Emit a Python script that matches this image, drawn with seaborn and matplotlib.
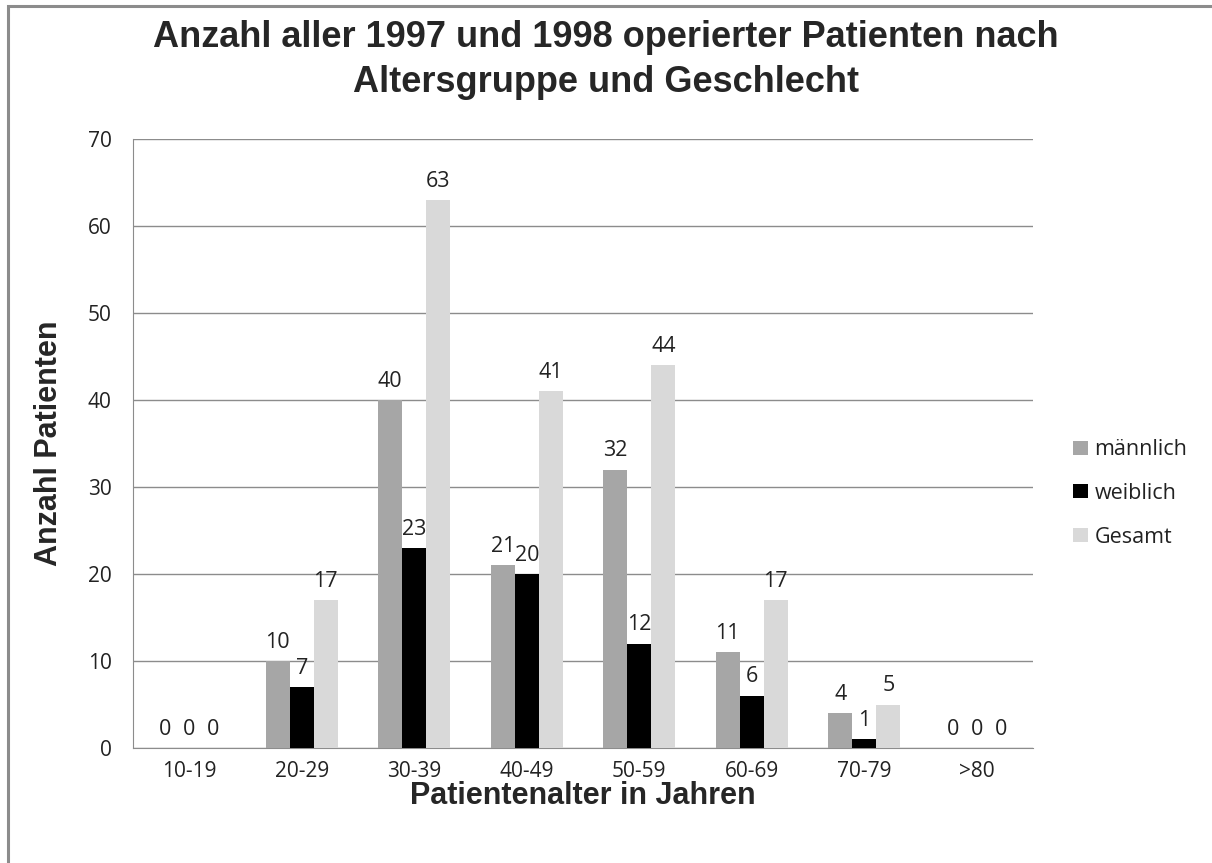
import pandas as pd
import seaborn as sns
import matplotlib.pyplot as plt
import numpy as np

# Altersgruppen und Patientenzahlen
gruppen = ["10-19", "20-29", "30-39", "40-49", "50-59", "60-69", "70-79", ">80"]
maennlich = [0, 10, 40, 21, 32, 11, 4, 0]
weiblich = [0, 7, 23, 20, 12, 6, 1, 0]
gesamt = [0, 17, 63, 41, 44, 17, 5, 0]
serien = ["männlich", "weiblich", "Gesamt"]
farben = ["#a6a6a6", "#000000", "#d9d9d9"]

df = pd.DataFrame({"Alter": gruppen * 3,
                   "Anzahl": maennlich + weiblich + gesamt,
                   "Geschlecht": np.repeat(serien, len(gruppen))})

sns.set_style("white")
plt.rcParams['font.family'] = ['Liberation Sans', 'DejaVu Sans']

W, H = 1212, 863
fig = plt.figure(figsize=(W / 100, H / 100), dpi=100)
ax = fig.add_axes([133 / W, 1 - 748 / H, 900 / W, 609 / H])

sns.barplot(data=df, x="Alter", y="Anzahl", hue="Geschlecht", palette=farben,
            width=0.64, saturation=1, linewidth=0, ax=ax, zorder=3)

for cont in ax.containers:
    ax.bar_label(cont, padding=6, fontsize=15.5, color="#222222", family="Open Sans")

ax.set_ylim(0, 70)
ax.set_xlim(-0.5, 7.5)
ax.set_yticks(range(0, 71, 10))
ax.yaxis.grid(True, color="#8c8c8c", linewidth=1, zorder=0)
ax.set_axisbelow(True)

# Ticks an den Kategoriegrenzen
ax.set_xticks(np.arange(-0.5, 8, 1), minor=False)
ax.set_xticklabels([])
ax.set_xticks(range(8), minor=True)
ax.set_xticklabels(gruppen, minor=True, fontsize=15, family="Open Sans", color="#222222")
ax.tick_params(axis="x", which="minor", length=0, pad=9)
ax.tick_params(axis="x", which="major", length=6.5, color="#8c8c8c", direction="out")
ax.tick_params(axis="y", length=6.5, color="#8c8c8c", direction="out", labelsize=15,
               pad=9, labelcolor="#222222")
for lab in ax.get_yticklabels():
    lab.set_family("Open Sans")

for s in ["top", "right"]:
    ax.spines[s].set_visible(False)
for s in ["left", "bottom"]:
    ax.spines[s].set_color("#8c8c8c")

ax.set_xlabel("Patientenalter in Jahren", fontsize=22, fontweight="bold")
ax.set_ylabel("Anzahl Patienten", fontsize=22, fontweight="bold")
ax.xaxis.set_label_coords(0.5, -0.055)
ax.yaxis.set_label_coords(-0.077, 0.5)

fig.text(0.5, 1 - 20 / H,
         "Anzahl aller 1997 und 1998 operierter Patienten nach\nAltersgruppe und Geschlecht",
         ha="center", va="top", fontsize=26, fontweight="bold", linespacing=1.38)

leg = ax.legend(loc="center left", bbox_to_anchor=(1.023, 0.418), frameon=False,
                handlelength=0.68, handleheight=0.62, labelspacing=1.05,
                handletextpad=0.32, prop={"family": "Open Sans", "size": 15.5})
for t in leg.get_texts():
    t.set_color("#222222")

# Rahmen (nur oben und links sichtbar)
fig.patches.append(plt.Rectangle((8 / W, -0.1), 1.2, 1.1 - 6 / H, transform=fig.transFigure,
                                 fill=False, edgecolor="#8c8c8c", linewidth=2.2))

fig.savefig("out.png", dpi=100)
